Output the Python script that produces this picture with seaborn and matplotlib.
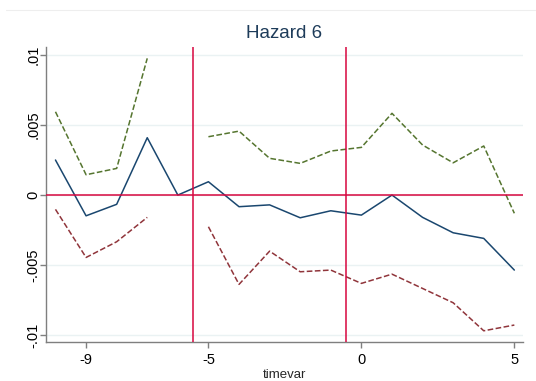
import numpy as np
import pandas as pd
import matplotlib
matplotlib.use("Agg")
import matplotlib.pyplot as plt
import seaborn as sns
from matplotlib.lines import Line2D

# data
timevar = [-10, -9, -8, -7, -6, -5, -4, -3, -2, -1, 0, 1, 2, 3, 4, 5]
estimate = [0.0025, -0.00148, -0.00066, 0.00409, 0.0, 0.00095, -0.00083, -0.0007,
            -0.00162, -0.00112, -0.00143, 0.0, -0.00159, -0.00269, -0.00309, -0.00535]
upper = [0.00594, 0.00145, 0.0019, 0.00975, np.nan, 0.00416, 0.00456, 0.00262,
         0.00226, 0.00314, 0.0034, 0.00583, 0.00357, 0.0023, 0.0035, -0.0013]
lower = [-0.00102, -0.00445, -0.00333, -0.00159, np.nan, -0.00226, -0.00637, -0.0040,
         -0.00547, -0.00535, -0.0063, -0.00564, -0.00666, -0.00768, -0.00968, -0.00927]
vlines = [-5.5, -0.5]
xticks = [-9, -5, 0, 5]
yticks = [-0.01, -0.005, 0, 0.005, 0.01]
ytick_labels = ["-.01", "-.005", "0", ".005", ".01"]

sns.set_style("white")
plt.rcParams["font.family"] = ["Liberation Sans", "DejaVu Sans"]

fig = plt.figure(figsize=(5.36, 3.81), dpi=100)
ax = fig.add_axes([0.0858, 0.1016, 0.8892, 0.7758])

df = pd.DataFrame({"timevar": timevar, "estimate": estimate, "upper": upper, "lower": lower})


def draw(col, color, dashed):
    # split series at missing values so gaps stay gaps
    seg = df[col].isna().cumsum()
    for _, part in df[df[col].notna()].groupby(seg[df[col].notna()]):
        sns.lineplot(data=part, x="timevar", y=col, ax=ax, color=color,
                     linewidth=1.1, estimator=None, sort=False,
                     dashes=(5, 3) if dashed else None,
                     linestyle="--" if dashed else "-")


for y in yticks:
    ax.axhline(y, color="#eaf2f3", linewidth=1.0, zorder=0)

draw("upper", "#55752f", True)
draw("lower", "#90353b", True)
draw("estimate", "#1a476f", False)

ax.axhline(0, color="#d7073f", linewidth=1.1, zorder=3)
for v in vlines:
    ax.axvline(v, color="#d7073f", linewidth=1.1, zorder=3)

ax.set_xlim(-10.31, 5.27)
ax.set_ylim(-0.0105, 0.01058)
ax.set_xticks(xticks)
ax.set_xticklabels([str(t) for t in xticks])
ax.set_yticks(yticks)
ax.set_yticklabels(ytick_labels, rotation=90, va="center")
ax.tick_params(axis="both", direction="out", length=4, width=1, color="#7f7f7f",
               labelsize=10.5, labelcolor="black")
ax.tick_params(axis="x", pad=4)
ax.tick_params(axis="y", pad=0)
ax.tick_params(left=True, bottom=True)

for side in ["top", "right"]:
    ax.spines[side].set_visible(False)
for side in ["left", "bottom"]:
    ax.spines[side].set_color("#7f7f7f")
    ax.spines[side].set_linewidth(1.0)

ax.set_xlabel("timevar", fontsize=9.5, labelpad=1)
ax.set_ylabel("")
ax.set_title("Hazard 6", fontsize=13.5, color="#1e3c5a", pad=6)

fig.add_artist(Line2D([6 / 536, 1], [1 - 9.5 / 381, 1 - 9.5 / 381],
                      transform=fig.transFigure, color="#eeeeee", linewidth=0.8))

fig.savefig("out.png", dpi=100)
